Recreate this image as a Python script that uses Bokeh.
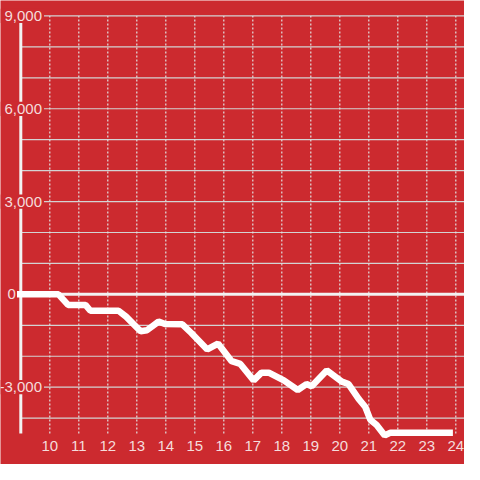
from bokeh.plotting import figure
from bokeh.models import Range1d
from bokeh.core.properties import value
from bokeh.embed import file_html
from bokeh.resources import INLINE

# ---- data ----
hours = [8.87, 10.3, 10.63, 11.23, 11.4, 12.37, 12.63, 13.13, 13.35, 13.75, 13.97,
         14.57, 14.88, 15.43, 15.8, 16.27, 16.57, 17.03, 17.3, 17.55, 18.07, 18.55,
         18.85, 19.03, 19.55, 20.07, 20.3, 20.65, 20.88, 21.05, 21.27, 21.55, 21.75, 23.9]
values = [0, 0, -340, -340, -530, -530, -720, -1190, -1160, -880, -960,
          -970, -1250, -1780, -1590, -2160, -2250, -2780, -2530, -2530, -2780, -3090,
          -2900, -2970, -2460, -2820, -2900, -3380, -3640, -4050, -4220, -4560, -4470, -4470]

x_ticks = list(range(10, 25))
x_tick_labels = [str(t) for t in x_ticks]
y_grid = list(range(-4000, 10000, 1000))
y_major = [9000, 6000, 3000, -3000]
y_major_labels = ["9,000", "6,000", "3,000", "-3,000"]
zero_label = ["0"]

RED = "#CC2A2F"
LABEL = "#f5dcdc"
FONT = value("Liberation Sans")
FS = "15px"

p = figure(width=464, height=464, output_backend="svg", toolbar_location=None,
           x_axis_location=None, y_axis_location=None, min_border=0,
           x_range=Range1d(8.3, 24.3), y_range=Range1d(-5500, 9500),
           background_fill_color=RED, border_fill_color=RED, outline_line_color=None)
p.grid.visible = False

axis_x = 9.0
x_end = 24.3
y_bottom = -4500
y_top = 9000

# horizontal grid lines
p.segment(x0=[axis_x] * len(y_grid), x1=[x_end] * len(y_grid), y0=y_grid, y1=y_grid,
          line_color="#d3d3d3", line_width=1.2)
# vertical dotted grid lines
p.segment(x0=x_ticks, x1=x_ticks, y0=[y_bottom] * len(x_ticks), y1=[y_top] * len(x_ticks),
          line_color="#e2e2e2", line_width=1.2, line_dash="2 2")
# y axis line
p.segment(x0=[axis_x], x1=[axis_x], y0=[y_bottom], y1=[y_top], line_color="#f2f2f2", line_width=3)
# zero line
p.segment(x0=[8.87], x1=[x_end], y0=[0], y1=[0], line_color="#f2f2f2", line_width=3)
# data line
p.line(hours, values, line_color="white", line_width=6.5)

# label backgrounds
p.quad(left=[8.3] * len(y_major), right=[9.8] * len(y_major),
       top=[v + 230 for v in y_major], bottom=[v - 230 for v in y_major],
       fill_color=RED, line_color=None)
# y labels
p.text(x=[9.733] * len(y_major), y=y_major, text=y_major_labels, text_align="right",
       text_baseline="middle", text_font=FONT, text_font_size=FS, text_color=LABEL)
p.text(x=[8.833], y=[0], text=zero_label, text_align="right",
       text_baseline="middle", text_font=FONT, text_font_size=FS, text_color=LABEL)
# x labels
p.text(x=x_ticks, y=[-4906] * len(x_ticks), text=x_tick_labels, text_align="center",
       text_baseline="middle", text_font=FONT, text_font_size=FS, text_color=LABEL)

open("out.html", "w").write(file_html(p, INLINE))
